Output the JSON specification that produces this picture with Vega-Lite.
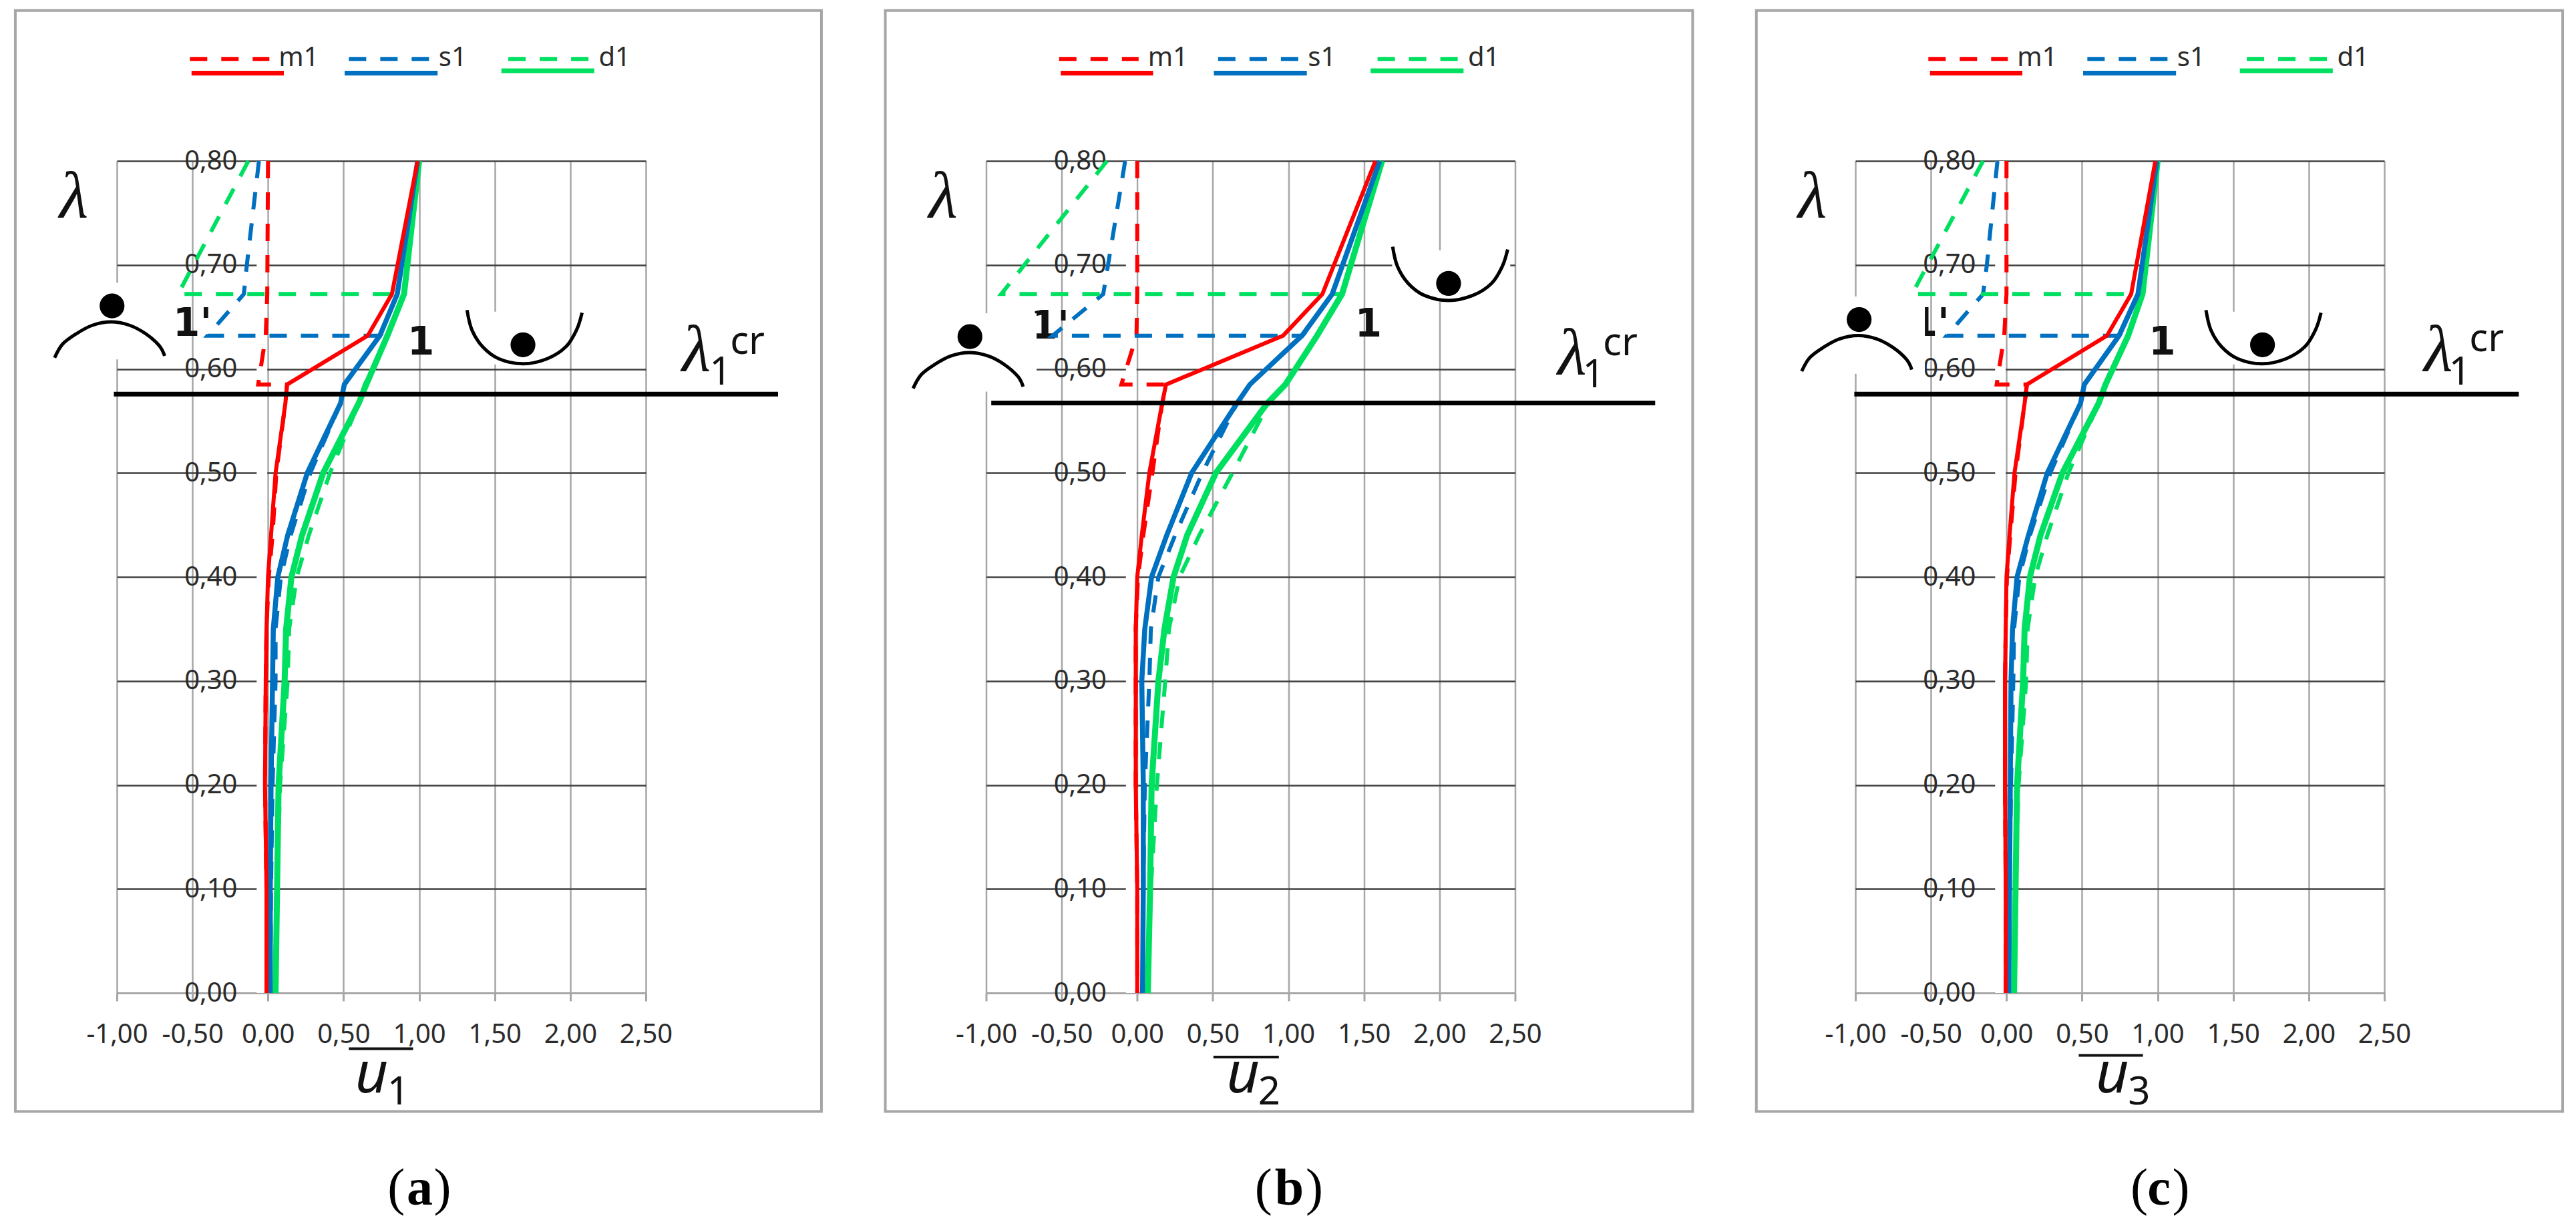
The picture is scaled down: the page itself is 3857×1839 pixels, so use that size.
{"$schema":"https://vega.github.io/schema/vega-lite/v6.json","background":"white","padding":{"left":20,"top":13,"right":19,"bottom":10},"config":{"view":{"stroke":null}},"bounds":"flush","spacing":509.5,"resolve":{"axis":{"x":"independent","y":"independent"}},
"data":{"values":[
{"panel":"a","kind":"frame","u":-1.672,"u2":3.662,"lambda":0.9447,"lambda2":-0.114},
{"panel":"b","kind":"frame","u":-1.667,"u2":3.675,"lambda":0.9447,"lambda2":-0.114},
{"panel":"c","kind":"frame","u":-1.655,"u2":3.68,"lambda":0.9447,"lambda2":-0.114},
{"panel":"a","kind":"mask","u":-0.075,"u2":-0.005,"lambda":0.8,"lambda2":0},
{"panel":"b","kind":"mask","u":-0.075,"u2":-0.005,"lambda":0.8,"lambda2":0},
{"panel":"c","kind":"mask","u":-0.075,"u2":-0.005,"lambda":0.8,"lambda2":0},
{"panel":"a","kind":"mask","u":-1.43,"u2":-0.659,"lambda":0.6828,"lambda2":0.6092},
{"panel":"a","kind":"mask","u":1.306,"u2":1.964,"lambda":0.655,"lambda2":0.6043},
{"panel":"b","kind":"mask","u":-1.49,"u2":-0.666,"lambda":0.6534,"lambda2":0.5781},
{"panel":"b","kind":"mask","u":1.687,"u2":2.468,"lambda":0.7139,"lambda2":0.6648},
{"panel":"c","kind":"mask","u":-1.372,"u2":-0.54,"lambda":0.6697,"lambda2":0.5954},
{"panel":"c","kind":"mask","u":1.312,"u2":1.985,"lambda":0.655,"lambda2":0.6043},
{"panel":"a","kind":"bold","text":"1'","u":-0.5,"lambda":0.643},
{"panel":"a","kind":"bold","text":"1","u":1.011,"lambda":0.6246},
{"panel":"b","kind":"bold","text":"1'","u":-0.578,"lambda":0.64},
{"panel":"b","kind":"bold","text":"1","u":1.53,"lambda":0.642},
{"panel":"c","kind":"bold","text":"1'","u":-0.506,"lambda":0.643},
{"panel":"c","kind":"bold","text":"1","u":1.03,"lambda":0.6246},

{"panel":"a","kind":"dashed","series":"m1","ord":1,"u":0,"lambda":0.8},
{"panel":"a","kind":"dashed","series":"m1","ord":2,"u":-0.005,"lambda":0.672},
{"panel":"a","kind":"dashed","series":"m1","ord":3,"u":-0.015,"lambda":0.632},
{"panel":"a","kind":"dashed","series":"m1","ord":4,"u":-0.065,"lambda":0.585},
{"panel":"a","kind":"dashed","series":"m1","ord":5,"u":0.126,"lambda":0.585},
{"panel":"a","kind":"dashed","series":"m1","ord":6,"u":0.115,"lambda":0.567},
{"panel":"a","kind":"dashed","series":"m1","ord":7,"u":0.055,"lambda":0.5},
{"panel":"a","kind":"dashed","series":"m1","ord":8,"u":0.03,"lambda":0.44},
{"panel":"a","kind":"dashed","series":"m1","ord":9,"u":0.005,"lambda":0.4},
{"panel":"a","kind":"dashed","series":"m1","ord":10,"u":-0.01,"lambda":0.35},
{"panel":"a","kind":"dashed","series":"m1","ord":11,"u":-0.015,"lambda":0.3},
{"panel":"a","kind":"dashed","series":"m1","ord":12,"u":-0.02,"lambda":0.2},
{"panel":"a","kind":"dashed","series":"m1","ord":13,"u":-0.01,"lambda":0.1},
{"panel":"a","kind":"dashed","series":"m1","ord":14,"u":-0.01,"lambda":0},
{"panel":"a","kind":"dashed","series":"s1","ord":1,"u":-0.06,"lambda":0.8},
{"panel":"a","kind":"dashed","series":"s1","ord":2,"u":-0.14,"lambda":0.7},
{"panel":"a","kind":"dashed","series":"s1","ord":3,"u":-0.16,"lambda":0.672},
{"panel":"a","kind":"dashed","series":"s1","ord":4,"u":-0.4,"lambda":0.632},
{"panel":"a","kind":"dashed","series":"s1","ord":5,"u":0.74,"lambda":0.632},
{"panel":"a","kind":"dashed","series":"s1","ord":6,"u":0.505,"lambda":0.585},
{"panel":"a","kind":"dashed","series":"s1","ord":7,"u":0.48,"lambda":0.567},
{"panel":"a","kind":"dashed","series":"s1","ord":8,"u":0.28,"lambda":0.5},
{"panel":"a","kind":"dashed","series":"s1","ord":9,"u":0.15,"lambda":0.44},
{"panel":"a","kind":"dashed","series":"s1","ord":10,"u":0.085,"lambda":0.4},
{"panel":"a","kind":"dashed","series":"s1","ord":11,"u":0.05,"lambda":0.35},
{"panel":"a","kind":"dashed","series":"s1","ord":12,"u":0.05,"lambda":0.3},
{"panel":"a","kind":"dashed","series":"s1","ord":13,"u":0.03,"lambda":0.2},
{"panel":"a","kind":"dashed","series":"s1","ord":14,"u":0.02,"lambda":0.1},
{"panel":"a","kind":"dashed","series":"s1","ord":15,"u":0.015,"lambda":0},
{"panel":"a","kind":"dashed","series":"d1","ord":1,"u":-0.13,"lambda":0.8},
{"panel":"a","kind":"dashed","series":"d1","ord":2,"u":-0.595,"lambda":0.672},
{"panel":"a","kind":"dashed","series":"d1","ord":3,"u":0.9,"lambda":0.672},
{"panel":"a","kind":"dashed","series":"d1","ord":4,"u":0.79,"lambda":0.632},
{"panel":"a","kind":"dashed","series":"d1","ord":5,"u":0.64,"lambda":0.585},
{"panel":"a","kind":"dashed","series":"d1","ord":6,"u":0.6,"lambda":0.567},
{"panel":"a","kind":"dashed","series":"d1","ord":7,"u":0.41,"lambda":0.5},
{"panel":"a","kind":"dashed","series":"d1","ord":8,"u":0.27,"lambda":0.44},
{"panel":"a","kind":"dashed","series":"d1","ord":9,"u":0.19,"lambda":0.4},
{"panel":"a","kind":"dashed","series":"d1","ord":10,"u":0.14,"lambda":0.35},
{"panel":"a","kind":"dashed","series":"d1","ord":11,"u":0.13,"lambda":0.3},
{"panel":"a","kind":"dashed","series":"d1","ord":12,"u":0.08,"lambda":0.2},
{"panel":"a","kind":"dashed","series":"d1","ord":13,"u":0.06,"lambda":0.1},
{"panel":"a","kind":"dashed","series":"d1","ord":14,"u":0.05,"lambda":0},

{"panel":"b","kind":"dashed","series":"m1","ord":1,"u":0,"lambda":0.8},
{"panel":"b","kind":"dashed","series":"m1","ord":2,"u":0,"lambda":0.672},
{"panel":"b","kind":"dashed","series":"m1","ord":3,"u":-0.005,"lambda":0.632},
{"panel":"b","kind":"dashed","series":"m1","ord":4,"u":-0.105,"lambda":0.585},
{"panel":"b","kind":"dashed","series":"m1","ord":5,"u":0.19,"lambda":0.585},
{"panel":"b","kind":"dashed","series":"m1","ord":6,"u":0.165,"lambda":0.567},
{"panel":"b","kind":"dashed","series":"m1","ord":7,"u":0.1,"lambda":0.5},
{"panel":"b","kind":"dashed","series":"m1","ord":8,"u":0.04,"lambda":0.44},
{"panel":"b","kind":"dashed","series":"m1","ord":9,"u":0.005,"lambda":0.4},
{"panel":"b","kind":"dashed","series":"m1","ord":10,"u":-0.01,"lambda":0.35},
{"panel":"b","kind":"dashed","series":"m1","ord":11,"u":-0.01,"lambda":0.3},
{"panel":"b","kind":"dashed","series":"m1","ord":12,"u":-0.01,"lambda":0.2},
{"panel":"b","kind":"dashed","series":"m1","ord":13,"u":0,"lambda":0.1},
{"panel":"b","kind":"dashed","series":"m1","ord":14,"u":0,"lambda":0},
{"panel":"b","kind":"dashed","series":"s1","ord":1,"u":-0.08,"lambda":0.8},
{"panel":"b","kind":"dashed","series":"s1","ord":2,"u":-0.225,"lambda":0.672},
{"panel":"b","kind":"dashed","series":"s1","ord":3,"u":-0.56,"lambda":0.632},
{"panel":"b","kind":"dashed","series":"s1","ord":4,"u":1.09,"lambda":0.632},
{"panel":"b","kind":"dashed","series":"s1","ord":5,"u":0.745,"lambda":0.585},
{"panel":"b","kind":"dashed","series":"s1","ord":6,"u":0.66,"lambda":0.567},
{"panel":"b","kind":"dashed","series":"s1","ord":7,"u":0.43,"lambda":0.5},
{"panel":"b","kind":"dashed","series":"s1","ord":8,"u":0.25,"lambda":0.44},
{"panel":"b","kind":"dashed","series":"s1","ord":9,"u":0.14,"lambda":0.4},
{"panel":"b","kind":"dashed","series":"s1","ord":10,"u":0.09,"lambda":0.35},
{"panel":"b","kind":"dashed","series":"s1","ord":11,"u":0.08,"lambda":0.3},
{"panel":"b","kind":"dashed","series":"s1","ord":12,"u":0.05,"lambda":0.2},
{"panel":"b","kind":"dashed","series":"s1","ord":13,"u":0.04,"lambda":0.1},
{"panel":"b","kind":"dashed","series":"s1","ord":14,"u":0.035,"lambda":0},
{"panel":"b","kind":"dashed","series":"d1","ord":1,"u":-0.2,"lambda":0.8},
{"panel":"b","kind":"dashed","series":"d1","ord":2,"u":-0.9,"lambda":0.672},
{"panel":"b","kind":"dashed","series":"d1","ord":3,"u":1.355,"lambda":0.672},
{"panel":"b","kind":"dashed","series":"d1","ord":4,"u":1.19,"lambda":0.632},
{"panel":"b","kind":"dashed","series":"d1","ord":5,"u":0.98,"lambda":0.585},
{"panel":"b","kind":"dashed","series":"d1","ord":6,"u":0.87,"lambda":0.567},
{"panel":"b","kind":"dashed","series":"d1","ord":7,"u":0.63,"lambda":0.5},
{"panel":"b","kind":"dashed","series":"d1","ord":8,"u":0.41,"lambda":0.44},
{"panel":"b","kind":"dashed","series":"d1","ord":9,"u":0.28,"lambda":0.4},
{"panel":"b","kind":"dashed","series":"d1","ord":10,"u":0.21,"lambda":0.35},
{"panel":"b","kind":"dashed","series":"d1","ord":11,"u":0.185,"lambda":0.3},
{"panel":"b","kind":"dashed","series":"d1","ord":12,"u":0.13,"lambda":0.2},
{"panel":"b","kind":"dashed","series":"d1","ord":13,"u":0.09,"lambda":0.1},
{"panel":"b","kind":"dashed","series":"d1","ord":14,"u":0.07,"lambda":0},

{"panel":"c","kind":"dashed","series":"m1","ord":1,"u":0,"lambda":0.8},
{"panel":"c","kind":"dashed","series":"m1","ord":2,"u":0,"lambda":0.672},
{"panel":"c","kind":"dashed","series":"m1","ord":3,"u":-0.015,"lambda":0.632},
{"panel":"c","kind":"dashed","series":"m1","ord":4,"u":-0.065,"lambda":0.585},
{"panel":"c","kind":"dashed","series":"m1","ord":5,"u":0.135,"lambda":0.585},
{"panel":"c","kind":"dashed","series":"m1","ord":6,"u":0.12,"lambda":0.567},
{"panel":"c","kind":"dashed","series":"m1","ord":7,"u":0.06,"lambda":0.5},
{"panel":"c","kind":"dashed","series":"m1","ord":8,"u":0.025,"lambda":0.44},
{"panel":"c","kind":"dashed","series":"m1","ord":9,"u":0.003,"lambda":0.4},
{"panel":"c","kind":"dashed","series":"m1","ord":10,"u":-0.005,"lambda":0.35},
{"panel":"c","kind":"dashed","series":"m1","ord":11,"u":-0.01,"lambda":0.3},
{"panel":"c","kind":"dashed","series":"m1","ord":12,"u":-0.01,"lambda":0.2},
{"panel":"c","kind":"dashed","series":"m1","ord":13,"u":-0.005,"lambda":0.1},
{"panel":"c","kind":"dashed","series":"m1","ord":14,"u":-0.005,"lambda":0},
{"panel":"c","kind":"dashed","series":"s1","ord":1,"u":-0.06,"lambda":0.8},
{"panel":"c","kind":"dashed","series":"s1","ord":2,"u":-0.13,"lambda":0.7},
{"panel":"c","kind":"dashed","series":"s1","ord":3,"u":-0.155,"lambda":0.672},
{"panel":"c","kind":"dashed","series":"s1","ord":4,"u":-0.395,"lambda":0.632},
{"panel":"c","kind":"dashed","series":"s1","ord":5,"u":0.745,"lambda":0.632},
{"panel":"c","kind":"dashed","series":"s1","ord":6,"u":0.515,"lambda":0.585},
{"panel":"c","kind":"dashed","series":"s1","ord":7,"u":0.49,"lambda":0.567},
{"panel":"c","kind":"dashed","series":"s1","ord":8,"u":0.29,"lambda":0.5},
{"panel":"c","kind":"dashed","series":"s1","ord":9,"u":0.155,"lambda":0.44},
{"panel":"c","kind":"dashed","series":"s1","ord":10,"u":0.085,"lambda":0.4},
{"panel":"c","kind":"dashed","series":"s1","ord":11,"u":0.05,"lambda":0.35},
{"panel":"c","kind":"dashed","series":"s1","ord":12,"u":0.045,"lambda":0.3},
{"panel":"c","kind":"dashed","series":"s1","ord":13,"u":0.03,"lambda":0.2},
{"panel":"c","kind":"dashed","series":"s1","ord":14,"u":0.02,"lambda":0.1},
{"panel":"c","kind":"dashed","series":"s1","ord":15,"u":0.015,"lambda":0},
{"panel":"c","kind":"dashed","series":"d1","ord":1,"u":-0.155,"lambda":0.8},
{"panel":"c","kind":"dashed","series":"d1","ord":2,"u":-0.625,"lambda":0.672},
{"panel":"c","kind":"dashed","series":"d1","ord":3,"u":0.9,"lambda":0.672},
{"panel":"c","kind":"dashed","series":"d1","ord":4,"u":0.805,"lambda":0.632},
{"panel":"c","kind":"dashed","series":"d1","ord":5,"u":0.655,"lambda":0.585},
{"panel":"c","kind":"dashed","series":"d1","ord":6,"u":0.61,"lambda":0.567},
{"panel":"c","kind":"dashed","series":"d1","ord":7,"u":0.41,"lambda":0.5},
{"panel":"c","kind":"dashed","series":"d1","ord":8,"u":0.27,"lambda":0.44},
{"panel":"c","kind":"dashed","series":"d1","ord":9,"u":0.19,"lambda":0.4},
{"panel":"c","kind":"dashed","series":"d1","ord":10,"u":0.14,"lambda":0.35},
{"panel":"c","kind":"dashed","series":"d1","ord":11,"u":0.13,"lambda":0.3},
{"panel":"c","kind":"dashed","series":"d1","ord":12,"u":0.08,"lambda":0.2},
{"panel":"c","kind":"dashed","series":"d1","ord":13,"u":0.06,"lambda":0.1},
{"panel":"c","kind":"dashed","series":"d1","ord":14,"u":0.05,"lambda":0},

{"panel":"a","kind":"solid","series":"d1","ord":1,"u":1.0,"lambda":0.8},
{"panel":"a","kind":"solid","series":"d1","ord":2,"u":0.9,"lambda":0.672},
{"panel":"a","kind":"solid","series":"d1","ord":3,"u":0.79,"lambda":0.632},
{"panel":"a","kind":"solid","series":"d1","ord":4,"u":0.65,"lambda":0.585},
{"panel":"a","kind":"solid","series":"d1","ord":5,"u":0.6,"lambda":0.567},
{"panel":"a","kind":"solid","series":"d1","ord":6,"u":0.365,"lambda":0.5},
{"panel":"a","kind":"solid","series":"d1","ord":7,"u":0.225,"lambda":0.44},
{"panel":"a","kind":"solid","series":"d1","ord":8,"u":0.155,"lambda":0.4},
{"panel":"a","kind":"solid","series":"d1","ord":9,"u":0.12,"lambda":0.35},
{"panel":"a","kind":"solid","series":"d1","ord":10,"u":0.11,"lambda":0.3},
{"panel":"a","kind":"solid","series":"d1","ord":11,"u":0.07,"lambda":0.2},
{"panel":"a","kind":"solid","series":"d1","ord":12,"u":0.06,"lambda":0.1},
{"panel":"a","kind":"solid","series":"d1","ord":13,"u":0.05,"lambda":0},
{"panel":"a","kind":"solid","series":"s1","ord":1,"u":0.99,"lambda":0.8},
{"panel":"a","kind":"solid","series":"s1","ord":2,"u":0.855,"lambda":0.672},
{"panel":"a","kind":"solid","series":"s1","ord":3,"u":0.74,"lambda":0.632},
{"panel":"a","kind":"solid","series":"s1","ord":4,"u":0.505,"lambda":0.585},
{"panel":"a","kind":"solid","series":"s1","ord":5,"u":0.48,"lambda":0.567},
{"panel":"a","kind":"solid","series":"s1","ord":6,"u":0.26,"lambda":0.5},
{"panel":"a","kind":"solid","series":"s1","ord":7,"u":0.13,"lambda":0.44},
{"panel":"a","kind":"solid","series":"s1","ord":8,"u":0.065,"lambda":0.4},
{"panel":"a","kind":"solid","series":"s1","ord":9,"u":0.035,"lambda":0.35},
{"panel":"a","kind":"solid","series":"s1","ord":10,"u":0.03,"lambda":0.3},
{"panel":"a","kind":"solid","series":"s1","ord":11,"u":0.02,"lambda":0.2},
{"panel":"a","kind":"solid","series":"s1","ord":12,"u":0.015,"lambda":0.1},
{"panel":"a","kind":"solid","series":"s1","ord":13,"u":0.015,"lambda":0},
{"panel":"a","kind":"solid","series":"m1","ord":1,"u":0.99,"lambda":0.8},
{"panel":"a","kind":"solid","series":"m1","ord":2,"u":0.82,"lambda":0.672},
{"panel":"a","kind":"solid","series":"m1","ord":3,"u":0.66,"lambda":0.632},
{"panel":"a","kind":"solid","series":"m1","ord":4,"u":0.126,"lambda":0.585},
{"panel":"a","kind":"solid","series":"m1","ord":5,"u":0.115,"lambda":0.567},
{"panel":"a","kind":"solid","series":"m1","ord":6,"u":0.05,"lambda":0.5},
{"panel":"a","kind":"solid","series":"m1","ord":7,"u":0.02,"lambda":0.44},
{"panel":"a","kind":"solid","series":"m1","ord":8,"u":0,"lambda":0.4},
{"panel":"a","kind":"solid","series":"m1","ord":9,"u":-0.01,"lambda":0.35},
{"panel":"a","kind":"solid","series":"m1","ord":10,"u":-0.015,"lambda":0.3},
{"panel":"a","kind":"solid","series":"m1","ord":11,"u":-0.02,"lambda":0.2},
{"panel":"a","kind":"solid","series":"m1","ord":12,"u":-0.01,"lambda":0.1},
{"panel":"a","kind":"solid","series":"m1","ord":13,"u":-0.01,"lambda":0},

{"panel":"b","kind":"solid","series":"d1","ord":1,"u":1.62,"lambda":0.8},
{"panel":"b","kind":"solid","series":"d1","ord":2,"u":1.355,"lambda":0.672},
{"panel":"b","kind":"solid","series":"d1","ord":3,"u":1.19,"lambda":0.632},
{"panel":"b","kind":"solid","series":"d1","ord":4,"u":0.98,"lambda":0.585},
{"panel":"b","kind":"solid","series":"d1","ord":5,"u":0.86,"lambda":0.567},
{"panel":"b","kind":"solid","series":"d1","ord":6,"u":0.52,"lambda":0.5},
{"panel":"b","kind":"solid","series":"d1","ord":7,"u":0.33,"lambda":0.44},
{"panel":"b","kind":"solid","series":"d1","ord":8,"u":0.24,"lambda":0.4},
{"panel":"b","kind":"solid","series":"d1","ord":9,"u":0.18,"lambda":0.35},
{"panel":"b","kind":"solid","series":"d1","ord":10,"u":0.14,"lambda":0.3},
{"panel":"b","kind":"solid","series":"d1","ord":11,"u":0.095,"lambda":0.2},
{"panel":"b","kind":"solid","series":"d1","ord":12,"u":0.085,"lambda":0.1},
{"panel":"b","kind":"solid","series":"d1","ord":13,"u":0.07,"lambda":0},
{"panel":"b","kind":"solid","series":"s1","ord":1,"u":1.605,"lambda":0.8},
{"panel":"b","kind":"solid","series":"s1","ord":2,"u":1.29,"lambda":0.672},
{"panel":"b","kind":"solid","series":"s1","ord":3,"u":1.09,"lambda":0.632},
{"panel":"b","kind":"solid","series":"s1","ord":4,"u":0.745,"lambda":0.585},
{"panel":"b","kind":"solid","series":"s1","ord":5,"u":0.66,"lambda":0.567},
{"panel":"b","kind":"solid","series":"s1","ord":6,"u":0.36,"lambda":0.5},
{"panel":"b","kind":"solid","series":"s1","ord":7,"u":0.195,"lambda":0.44},
{"panel":"b","kind":"solid","series":"s1","ord":8,"u":0.095,"lambda":0.4},
{"panel":"b","kind":"solid","series":"s1","ord":9,"u":0.05,"lambda":0.35},
{"panel":"b","kind":"solid","series":"s1","ord":10,"u":0.03,"lambda":0.3},
{"panel":"b","kind":"solid","series":"s1","ord":11,"u":0.04,"lambda":0.2},
{"panel":"b","kind":"solid","series":"s1","ord":12,"u":0.04,"lambda":0.1},
{"panel":"b","kind":"solid","series":"s1","ord":13,"u":0.035,"lambda":0},
{"panel":"b","kind":"solid","series":"m1","ord":1,"u":1.576,"lambda":0.8},
{"panel":"b","kind":"solid","series":"m1","ord":2,"u":1.225,"lambda":0.672},
{"panel":"b","kind":"solid","series":"m1","ord":3,"u":0.965,"lambda":0.632},
{"panel":"b","kind":"solid","series":"m1","ord":4,"u":0.19,"lambda":0.585},
{"panel":"b","kind":"solid","series":"m1","ord":5,"u":0.165,"lambda":0.567},
{"panel":"b","kind":"solid","series":"m1","ord":6,"u":0.08,"lambda":0.5},
{"panel":"b","kind":"solid","series":"m1","ord":7,"u":0.03,"lambda":0.44},
{"panel":"b","kind":"solid","series":"m1","ord":8,"u":0,"lambda":0.4},
{"panel":"b","kind":"solid","series":"m1","ord":9,"u":-0.01,"lambda":0.35},
{"panel":"b","kind":"solid","series":"m1","ord":10,"u":-0.01,"lambda":0.3},
{"panel":"b","kind":"solid","series":"m1","ord":11,"u":-0.01,"lambda":0.2},
{"panel":"b","kind":"solid","series":"m1","ord":12,"u":0,"lambda":0.1},
{"panel":"b","kind":"solid","series":"m1","ord":13,"u":0,"lambda":0},

{"panel":"c","kind":"solid","series":"d1","ord":1,"u":1.0,"lambda":0.8},
{"panel":"c","kind":"solid","series":"d1","ord":2,"u":0.9,"lambda":0.672},
{"panel":"c","kind":"solid","series":"d1","ord":3,"u":0.805,"lambda":0.632},
{"panel":"c","kind":"solid","series":"d1","ord":4,"u":0.655,"lambda":0.585},
{"panel":"c","kind":"solid","series":"d1","ord":5,"u":0.61,"lambda":0.567},
{"panel":"c","kind":"solid","series":"d1","ord":6,"u":0.37,"lambda":0.5},
{"panel":"c","kind":"solid","series":"d1","ord":7,"u":0.225,"lambda":0.44},
{"panel":"c","kind":"solid","series":"d1","ord":8,"u":0.155,"lambda":0.4},
{"panel":"c","kind":"solid","series":"d1","ord":9,"u":0.12,"lambda":0.35},
{"panel":"c","kind":"solid","series":"d1","ord":10,"u":0.11,"lambda":0.3},
{"panel":"c","kind":"solid","series":"d1","ord":11,"u":0.07,"lambda":0.2},
{"panel":"c","kind":"solid","series":"d1","ord":12,"u":0.06,"lambda":0.1},
{"panel":"c","kind":"solid","series":"d1","ord":13,"u":0.05,"lambda":0},
{"panel":"c","kind":"solid","series":"s1","ord":1,"u":0.995,"lambda":0.8},
{"panel":"c","kind":"solid","series":"s1","ord":2,"u":0.87,"lambda":0.672},
{"panel":"c","kind":"solid","series":"s1","ord":3,"u":0.745,"lambda":0.632},
{"panel":"c","kind":"solid","series":"s1","ord":4,"u":0.515,"lambda":0.585},
{"panel":"c","kind":"solid","series":"s1","ord":5,"u":0.49,"lambda":0.567},
{"panel":"c","kind":"solid","series":"s1","ord":6,"u":0.27,"lambda":0.5},
{"panel":"c","kind":"solid","series":"s1","ord":7,"u":0.145,"lambda":0.44},
{"panel":"c","kind":"solid","series":"s1","ord":8,"u":0.07,"lambda":0.4},
{"panel":"c","kind":"solid","series":"s1","ord":9,"u":0.04,"lambda":0.35},
{"panel":"c","kind":"solid","series":"s1","ord":10,"u":0.03,"lambda":0.3},
{"panel":"c","kind":"solid","series":"s1","ord":11,"u":0.025,"lambda":0.2},
{"panel":"c","kind":"solid","series":"s1","ord":12,"u":0.02,"lambda":0.1},
{"panel":"c","kind":"solid","series":"s1","ord":13,"u":0.015,"lambda":0},
{"panel":"c","kind":"solid","series":"m1","ord":1,"u":0.985,"lambda":0.8},
{"panel":"c","kind":"solid","series":"m1","ord":2,"u":0.825,"lambda":0.672},
{"panel":"c","kind":"solid","series":"m1","ord":3,"u":0.665,"lambda":0.632},
{"panel":"c","kind":"solid","series":"m1","ord":4,"u":0.135,"lambda":0.585},
{"panel":"c","kind":"solid","series":"m1","ord":5,"u":0.12,"lambda":0.567},
{"panel":"c","kind":"solid","series":"m1","ord":6,"u":0.053,"lambda":0.5},
{"panel":"c","kind":"solid","series":"m1","ord":7,"u":0.02,"lambda":0.44},
{"panel":"c","kind":"solid","series":"m1","ord":8,"u":0,"lambda":0.4},
{"panel":"c","kind":"solid","series":"m1","ord":9,"u":-0.005,"lambda":0.35},
{"panel":"c","kind":"solid","series":"m1","ord":10,"u":-0.01,"lambda":0.3},
{"panel":"c","kind":"solid","series":"m1","ord":11,"u":-0.01,"lambda":0.2},
{"panel":"c","kind":"solid","series":"m1","ord":12,"u":-0.005,"lambda":0.1},
{"panel":"c","kind":"solid","series":"m1","ord":13,"u":-0.005,"lambda":0},

{"panel":"a","kind":"thick","u":-1.02,"u2":3.375,"lambda":0.5758},
{"panel":"b","kind":"thick","u":-0.966,"u2":3.427,"lambda":0.5673},
{"panel":"c","kind":"thick","u":-1.007,"u2":3.39,"lambda":0.5758},
{"panel":"a","kind":"over","u":0.535,"u2":0.96,"lambda":-0.0536},
{"panel":"b","kind":"over","u":0.504,"u2":0.937,"lambda":-0.0617},
{"panel":"c","kind":"over","u":0.478,"u2":0.903,"lambda":-0.06},

{"panel":"a","kind":"icon","series":"arch","ord":1,"u":-1.412,"lambda":0.6108},
{"panel":"a","kind":"icon","series":"arch","ord":2,"u":-1.359,"lambda":0.6239},
{"panel":"a","kind":"icon","series":"arch","ord":3,"u":-1.27,"lambda":0.6337},
{"panel":"a","kind":"icon","series":"arch","ord":4,"u":-1.163,"lambda":0.6419},
{"panel":"a","kind":"icon","series":"arch","ord":5,"u":-1.039,"lambda":0.6452},
{"panel":"a","kind":"icon","series":"arch","ord":6,"u":-0.915,"lambda":0.6419},
{"panel":"a","kind":"icon","series":"arch","ord":7,"u":-0.808,"lambda":0.6337},
{"panel":"a","kind":"icon","series":"arch","ord":8,"u":-0.719,"lambda":0.6223},
{"panel":"a","kind":"icon","series":"arch","ord":9,"u":-0.684,"lambda":0.6125},
{"panel":"b","kind":"icon","series":"arch","ord":1,"u":-1.483,"lambda":0.5813},
{"panel":"b","kind":"icon","series":"arch","ord":2,"u":-1.43,"lambda":0.5944},
{"panel":"b","kind":"icon","series":"arch","ord":3,"u":-1.341,"lambda":0.6042},
{"panel":"b","kind":"icon","series":"arch","ord":4,"u":-1.234,"lambda":0.6124},
{"panel":"b","kind":"icon","series":"arch","ord":5,"u":-1.11,"lambda":0.6157},
{"panel":"b","kind":"icon","series":"arch","ord":6,"u":-0.986,"lambda":0.6124},
{"panel":"b","kind":"icon","series":"arch","ord":7,"u":-0.879,"lambda":0.6042},
{"panel":"b","kind":"icon","series":"arch","ord":8,"u":-0.79,"lambda":0.5928},
{"panel":"b","kind":"icon","series":"arch","ord":9,"u":-0.755,"lambda":0.583},
{"panel":"c","kind":"icon","series":"arch","ord":1,"u":-1.355,"lambda":0.5977},
{"panel":"c","kind":"icon","series":"arch","ord":2,"u":-1.302,"lambda":0.6108},
{"panel":"c","kind":"icon","series":"arch","ord":3,"u":-1.213,"lambda":0.6206},
{"panel":"c","kind":"icon","series":"arch","ord":4,"u":-1.106,"lambda":0.6288},
{"panel":"c","kind":"icon","series":"arch","ord":5,"u":-0.982,"lambda":0.6321},
{"panel":"c","kind":"icon","series":"arch","ord":6,"u":-0.858,"lambda":0.6288},
{"panel":"c","kind":"icon","series":"arch","ord":7,"u":-0.751,"lambda":0.6206},
{"panel":"c","kind":"icon","series":"arch","ord":8,"u":-0.662,"lambda":0.6092},
{"panel":"c","kind":"icon","series":"arch","ord":9,"u":-0.627,"lambda":0.5994},
{"panel":"a","kind":"icon","series":"bowl","ord":1,"u":1.317,"lambda":0.6566},
{"panel":"a","kind":"icon","series":"bowl","ord":2,"u":1.349,"lambda":0.6376},
{"panel":"a","kind":"icon","series":"bowl","ord":3,"u":1.42,"lambda":0.6213},
{"panel":"a","kind":"icon","series":"bowl","ord":4,"u":1.527,"lambda":0.6098},
{"panel":"a","kind":"icon","series":"bowl","ord":5,"u":1.687,"lambda":0.6049},
{"panel":"a","kind":"icon","series":"bowl","ord":6,"u":1.847,"lambda":0.6098},
{"panel":"a","kind":"icon","series":"bowl","ord":7,"u":1.971,"lambda":0.6213},
{"panel":"a","kind":"icon","series":"bowl","ord":8,"u":2.042,"lambda":0.6376},
{"panel":"a","kind":"icon","series":"bowl","ord":9,"u":2.078,"lambda":0.654},
{"panel":"b","kind":"icon","series":"bowl","ord":1,"u":1.69,"lambda":0.7175},
{"panel":"b","kind":"icon","series":"bowl","ord":2,"u":1.722,"lambda":0.6985},
{"panel":"b","kind":"icon","series":"bowl","ord":3,"u":1.793,"lambda":0.6822},
{"panel":"b","kind":"icon","series":"bowl","ord":4,"u":1.9,"lambda":0.6707},
{"panel":"b","kind":"icon","series":"bowl","ord":5,"u":2.06,"lambda":0.6658},
{"panel":"b","kind":"icon","series":"bowl","ord":6,"u":2.22,"lambda":0.6707},
{"panel":"b","kind":"icon","series":"bowl","ord":7,"u":2.344,"lambda":0.6822},
{"panel":"b","kind":"icon","series":"bowl","ord":8,"u":2.415,"lambda":0.6985},
{"panel":"b","kind":"icon","series":"bowl","ord":9,"u":2.451,"lambda":0.7149},
{"panel":"c","kind":"icon","series":"bowl","ord":1,"u":1.32,"lambda":0.6566},
{"panel":"c","kind":"icon","series":"bowl","ord":2,"u":1.352,"lambda":0.6376},
{"panel":"c","kind":"icon","series":"bowl","ord":3,"u":1.423,"lambda":0.6213},
{"panel":"c","kind":"icon","series":"bowl","ord":4,"u":1.53,"lambda":0.6098},
{"panel":"c","kind":"icon","series":"bowl","ord":5,"u":1.69,"lambda":0.6049},
{"panel":"c","kind":"icon","series":"bowl","ord":6,"u":1.85,"lambda":0.6098},
{"panel":"c","kind":"icon","series":"bowl","ord":7,"u":1.974,"lambda":0.6213},
{"panel":"c","kind":"icon","series":"bowl","ord":8,"u":2.045,"lambda":0.6376},
{"panel":"c","kind":"icon","series":"bowl","ord":9,"u":2.081,"lambda":0.654},
{"panel":"a","kind":"ball","u":-1.032,"lambda":0.6606},
{"panel":"b","kind":"ball","u":-1.107,"lambda":0.6311},
{"panel":"c","kind":"ball","u":-0.975,"lambda":0.6475},
{"panel":"a","kind":"ball","u":1.687,"lambda":0.6232},
{"panel":"b","kind":"ball","u":2.06,"lambda":0.6822},
{"panel":"c","kind":"ball","u":1.694,"lambda":0.6232},

{"panel":"a","kind":"legdash","series":"m1","u":-0.517,"u2":0.009,"lambda":0.898},
{"panel":"a","kind":"legdash","series":"s1","u":0.535,"u2":1.068,"lambda":0.898},
{"panel":"a","kind":"legdash","series":"d1","u":1.59,"u2":2.13,"lambda":0.898},
{"panel":"a","kind":"legsolid","series":"m1","u":-0.506,"u2":0.105,"lambda":0.8845},
{"panel":"a","kind":"legsolid","series":"s1","u":0.507,"u2":1.122,"lambda":0.8845},
{"panel":"a","kind":"legsolid","series":"d1","u":1.544,"u2":2.159,"lambda":0.8867},
{"panel":"a","kind":"legtext","text":"m1","u":0.07,"lambda":0.899},
{"panel":"a","kind":"legtext","text":"s1","u":1.129,"lambda":0.899},
{"panel":"a","kind":"legtext","text":"d1","u":2.188,"lambda":0.899},
{"panel":"b","kind":"legdash","series":"m1","u":-0.517,"u2":0.009,"lambda":0.898},
{"panel":"b","kind":"legdash","series":"s1","u":0.535,"u2":1.068,"lambda":0.898},
{"panel":"b","kind":"legdash","series":"d1","u":1.59,"u2":2.13,"lambda":0.898},
{"panel":"b","kind":"legsolid","series":"m1","u":-0.506,"u2":0.105,"lambda":0.8845},
{"panel":"b","kind":"legsolid","series":"s1","u":0.507,"u2":1.122,"lambda":0.8845},
{"panel":"b","kind":"legsolid","series":"d1","u":1.544,"u2":2.159,"lambda":0.8867},
{"panel":"b","kind":"legtext","text":"m1","u":0.07,"lambda":0.899},
{"panel":"b","kind":"legtext","text":"s1","u":1.129,"lambda":0.899},
{"panel":"b","kind":"legtext","text":"d1","u":2.188,"lambda":0.899},
{"panel":"c","kind":"legdash","series":"m1","u":-0.517,"u2":0.009,"lambda":0.898},
{"panel":"c","kind":"legdash","series":"s1","u":0.535,"u2":1.068,"lambda":0.898},
{"panel":"c","kind":"legdash","series":"d1","u":1.59,"u2":2.13,"lambda":0.898},
{"panel":"c","kind":"legsolid","series":"m1","u":-0.506,"u2":0.105,"lambda":0.8845},
{"panel":"c","kind":"legsolid","series":"s1","u":0.507,"u2":1.122,"lambda":0.8845},
{"panel":"c","kind":"legsolid","series":"d1","u":1.544,"u2":2.159,"lambda":0.8867},
{"panel":"c","kind":"legtext","text":"m1","u":0.07,"lambda":0.899},
{"panel":"c","kind":"legtext","text":"s1","u":1.129,"lambda":0.899},
{"panel":"c","kind":"legtext","text":"d1","u":2.188,"lambda":0.899},

{"panel":"a","kind":"lam","text":"λ","u":-1.284,"lambda":0.765},
{"panel":"b","kind":"lam","text":"λ","u":-1.284,"lambda":0.765},
{"panel":"c","kind":"lam","text":"λ","u":-1.284,"lambda":0.765},
{"panel":"a","kind":"lam","text":"λ","u":2.834,"lambda":0.617},
{"panel":"b","kind":"lam","text":"λ","u":2.877,"lambda":0.614},
{"panel":"c","kind":"lam","text":"λ","u":2.858,"lambda":0.617},
{"panel":"a","kind":"sub","text":"1","u":2.994,"lambda":0.596},
{"panel":"b","kind":"sub","text":"1","u":3.02,"lambda":0.593},
{"panel":"c","kind":"sub","text":"1","u":3.0,"lambda":0.596},
{"panel":"a","kind":"sub","text":"cr","u":3.172,"lambda":0.6255},
{"panel":"b","kind":"sub","text":"cr","u":3.196,"lambda":0.624},
{"panel":"c","kind":"sub","text":"cr","u":3.177,"lambda":0.628},
{"panel":"a","kind":"sub","text":"1","u":0.862,"lambda":-0.096},
{"panel":"b","kind":"sub","text":"2","u":0.873,"lambda":-0.096},
{"panel":"c","kind":"sub","text":"3","u":0.878,"lambda":-0.096},
{"panel":"a","kind":"uvar","text":"u","u":0.685,"lambda":-0.079},
{"panel":"b","kind":"uvar","text":"u","u":0.7,"lambda":-0.079},
{"panel":"c","kind":"uvar","text":"u","u":0.7,"lambda":-0.079},
{"panel":"a","kind":"cap","text":"(","u":0.848,"lambda":-0.1885},
{"panel":"a","kind":"cap","text":")","u":1.154,"lambda":-0.1885},
{"panel":"a","kind":"capb","text":"a","u":1.004,"lambda":-0.1885},
{"panel":"b","kind":"cap","text":"(","u":0.835,"lambda":-0.1885},
{"panel":"b","kind":"cap","text":")","u":1.172,"lambda":-0.1885},
{"panel":"b","kind":"capb","text":"b","u":1.006,"lambda":-0.1885},
{"panel":"c","kind":"cap","text":"(","u":0.878,"lambda":-0.1885},
{"panel":"c","kind":"cap","text":")","u":1.154,"lambda":-0.1885},
{"panel":"c","kind":"capb","text":"c","u":1.009,"lambda":-0.1885}
]},
"facet":{"column":{"field":"panel","type":"nominal","header":null}},
"spec":{"width":792,"height":1246,
"encoding":{
"x":{"field":"u","type":"quantitative","scale":{"domain":[-1,2.5],"nice":false,"zero":false},"axis":{"title":null,"values":[-1,-0.5,0,0.5,1,1.5,2,2.5],"labelExpr":"replace(replace(format(datum.value,'.2f'),'.',','),'−','-')","labelFont":"Noto Sans","labelFontSize":40,"labelColor":"#2b2b2b","labelPadding":30,"labelOverlap":false,"labelFlush":false,"domainColor":"#a6a6a6","domainWidth":3,"tickColor":"#a6a6a6","tickWidth":3,"tickSize":12,"gridColor":"#a6a6a6","gridWidth":2.5,"grid":true}},
"y":{"field":"lambda","type":"quantitative","scale":{"domain":[0,0.8],"nice":false,"zero":false},"axis":{"title":null,"values":[0,0.1,0.2,0.3,0.4,0.5,0.6,0.7,0.8],"labelExpr":"replace(format(datum.value,'.2f'),'.',',')","labelFont":"Noto Sans","labelFontSize":40,"labelColor":"#2b2b2b","labelPadding":0,"labelOverlap":false,"labelFlush":false,"offset":-180,"domain":false,"ticks":false,"gridColor":"#404040","gridWidth":2.5,"grid":true}}
},
"layer":[
{"transform":[{"filter":"datum.kind==='frame'"}],"mark":{"type":"rect","fill":null,"stroke":"#a6a6a6","strokeWidth":4},"encoding":{"x2":{"field":"u2"},"y2":{"field":"lambda2"}}},
{"transform":[{"filter":"datum.kind==='bold'"}],"mark":{"type":"text","font":"DejaVu Sans","fontWeight":"bold","fontSize":58,"align":"center","baseline":"middle","color":"#111111"},"encoding":{"text":{"field":"text"}}},
{"transform":[{"filter":"datum.kind==='mask'"}],"mark":{"type":"rect","fill":"white","stroke":null},"encoding":{"x2":{"field":"u2"},"y2":{"field":"lambda2"}}},
{"transform":[{"filter":"datum.kind==='dashed'"}],"mark":{"type":"line","strokeWidth":6,"strokeDash":[26,21]},"encoding":{"color":{"field":"series","type":"nominal","scale":{"domain":["m1","s1","d1"],"range":["#ff0000","#0070c0","#00e060"]},"legend":null},"detail":{"field":"series"},"order":{"field":"ord"}}},
{"transform":[{"filter":"datum.kind==='solid'"}],"mark":{"type":"line"},"encoding":{"color":{"field":"series","type":"nominal","legend":null},"strokeWidth":{"field":"series","type":"nominal","scale":{"domain":["m1","s1","d1"],"range":[6,9,8]},"legend":null},"detail":{"field":"series"},"order":{"field":"ord"}}},
{"transform":[{"filter":"datum.kind==='thick'"}],"mark":{"type":"rule","color":"#000000","strokeWidth":7},"encoding":{"x2":{"field":"u2"}}},
{"transform":[{"filter":"datum.kind==='over'"}],"mark":{"type":"rule","color":"#111111","strokeWidth":4},"encoding":{"x2":{"field":"u2"}}},
{"transform":[{"filter":"datum.kind==='icon'"}],"mark":{"type":"line","color":"#000000","strokeWidth":5,"interpolate":"cardinal"},"encoding":{"detail":{"field":"series"},"order":{"field":"ord"}}},
{"transform":[{"filter":"datum.kind==='ball'"}],"mark":{"type":"point","filled":true,"color":"#000000","size":1385,"opacity":1,"shape":"circle"},"encoding":{}},
{"transform":[{"filter":"datum.kind==='legdash'"}],"mark":{"type":"rule","strokeWidth":6,"strokeDash":[26,21]},"encoding":{"x2":{"field":"u2"},"color":{"field":"series","type":"nominal","legend":null}}},
{"transform":[{"filter":"datum.kind==='legsolid'"}],"mark":{"type":"rule","strokeWidth":7},"encoding":{"x2":{"field":"u2"},"color":{"field":"series","type":"nominal","legend":null}}},
{"transform":[{"filter":"datum.kind==='legtext'"}],"mark":{"type":"text","font":"Noto Sans","fontSize":40,"align":"left","baseline":"middle","color":"#2b2b2b"},"encoding":{"text":{"field":"text"}}},
{"transform":[{"filter":"datum.kind==='lam'"}],"mark":{"type":"text","font":"Liberation Serif","fontStyle":"italic","fontSize":100,"align":"center","baseline":"middle","color":"#111111"},"encoding":{"text":{"field":"text"}}},
{"transform":[{"filter":"datum.kind==='sub'"}],"mark":{"type":"text","font":"Noto Sans","fontSize":58,"align":"center","baseline":"middle","color":"#111111"},"encoding":{"text":{"field":"text"}}},
{"transform":[{"filter":"datum.kind==='uvar'"}],"mark":{"type":"text","font":"Noto Sans","fontStyle":"italic","fontSize":86,"align":"center","baseline":"middle","color":"#111111"},"encoding":{"text":{"field":"text"}}},
{"transform":[{"filter":"datum.kind==='cap'"}],"mark":{"type":"text","font":"Liberation Serif","fontSize":78,"align":"center","baseline":"middle","color":"#000000"},"encoding":{"text":{"field":"text"}}},
{"transform":[{"filter":"datum.kind==='capb'"}],"mark":{"type":"text","font":"Liberation Serif","fontWeight":"bold","fontSize":78,"align":"center","baseline":"middle","color":"#000000"},"encoding":{"text":{"field":"text"}}}
]}}
